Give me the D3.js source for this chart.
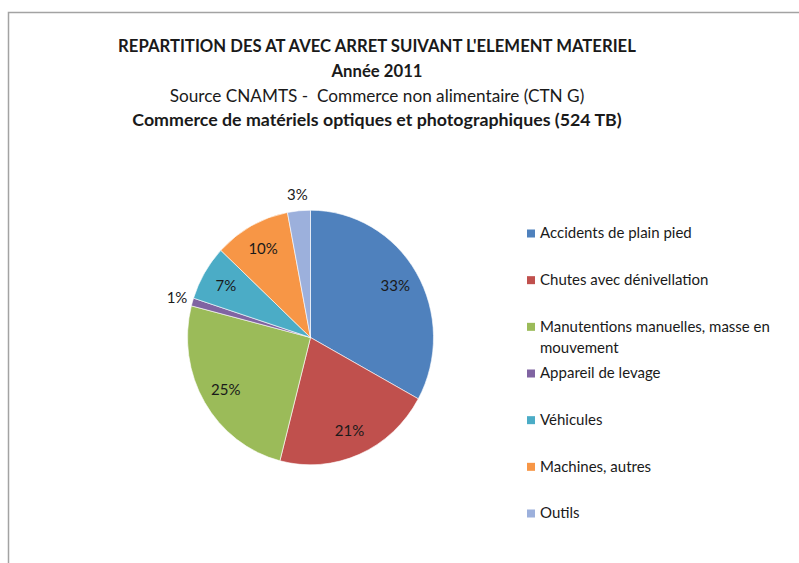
<!DOCTYPE html>
<html>
<head>
<meta charset="utf-8">
<script src="https://cdn.jsdelivr.net/npm/d3@7"></script>
<style>
  body { margin: 0; background: #fff; }
  text { font-family: Lato, "Open Sans", sans-serif; fill: #1a1a1a; }
</style>
</head>
<body>
<div id="chart"></div>
<script>
// pie of AT avec arret by element materiel, 2011
const categories = [
  'Accidents de plain pied',
  'Chutes avec dénivellation',
  'Manutentions manuelles, masse en mouvement',
  'Appareil de levage',
  'Véhicules',
  'Machines, autres',
  'Outils'
];
const values = [33, 21, 25, 1, 7, 10, 3];
const legendLines = [
  ['Accidents de plain pied'],
  ['Chutes avec dénivellation'],
  ['Manutentions manuelles, masse en', 'mouvement'],
  ['Appareil de levage'],
  ['Véhicules'],
  ['Machines, autres'],
  ['Outils']
];
const titles = [
  "REPARTITION DES AT AVEC ARRET SUIVANT L'ELEMENT MATERIEL",
  'Année 2011',
  'Source CNAMTS -\u00a0 Commerce non alimentaire (CTN G)',
  'Commerce de matériels optiques et photographiques (524 TB)'
];
const colors = ['#4f81bd', '#c0504d', '#9bbb59', '#8064a2', '#4bacc6', '#f79646', '#9cb0dc'];

const width = 799;
const height = 563;
const cx = 310.5, cy = 337.5, radius = 123;
const squash = 1.035; // pie in the picture is a touch taller than wide

const svg = d3.select('#chart').append('svg')
  .attr('width', width)
  .attr('height', height);

// frame (only top and left visible)
svg.append('path')
  .attr('d', `M8.5,${height} V12.5 H${width}`)
  .attr('fill', 'none')
  .attr('stroke', '#a3a3a3')
  .attr('stroke-width', 1.5);

// titles
const titleStyle = [
  {y: 51.5, size: 16.7, weight: 'bold'},
  {y: 76.5, size: 16.7, weight: 'bold'},
  {y: 101.5, size: 17.2, weight: 'normal'},
  {y: 125.5, size: 17.8, weight: 'bold'}
];
svg.selectAll('text.title')
  .data(titles)
  .enter().append('text')
    .attr('class', 'title')
    .attr('x', 377)
    .attr('y', (d, i) => titleStyle[i].y)
    .attr('text-anchor', 'middle')
    .style('font-size', (d, i) => titleStyle[i].size + 'px')
    .style('font-weight', (d, i) => titleStyle[i].weight)
    .text(d => d);

const color = d3.scaleOrdinal().domain(categories).range(colors);

const pie = d3.pie().sort(null).value(d => d.value);
const arcs = pie(categories.map((c, i) => ({name: c, value: values[i]})));

const arc = d3.arc().innerRadius(0).outerRadius(radius);
const inLabel = d3.arc().innerRadius(radius * 0.8).outerRadius(radius * 0.8);
const outLabel = d3.arc().innerRadius(radius + 16).outerRadius(radius + 16);

const g = svg.append('g').attr('transform', `translate(${cx},${cy}) scale(1,${squash})`);

g.selectAll('path')
  .data(arcs)
  .enter().append('path')
    .attr('d', arc)
    .attr('fill', d => color(d.data.name))
    .attr('stroke', '#ffffff')
    .attr('stroke-width', 0.6);

svg.append('g')
  .attr('transform', `translate(${cx},${cy})`)
  .selectAll('text')
  .data(arcs)
  .enter().append('text')
    .attr('transform', d => {
      const p = d.data.value < 5 ? outLabel.centroid(d) : inLabel.centroid(d);
      return `translate(${p[0]},${p[1] * squash})`;
    })
    .attr('text-anchor', 'middle')
    .attr('dy', '0.35em')
    .style('font-size', '15px')
    .text(d => d.data.value + '%');

// legend
const legend = svg.append('g').attr('transform', 'translate(527,0)');
const rowY = d3.scalePoint().domain(categories).range([233, 513]);

const item = legend.selectAll('g')
  .data(categories)
  .enter().append('g')
    .attr('transform', d => `translate(0,${rowY(d)})`);

item.append('rect')
  .attr('x', 0)
  .attr('y', -3.5)
  .attr('width', 8)
  .attr('height', 8)
  .attr('fill', d => color(d));

item.append('text')
  .style('font-size', '15px')
  .selectAll('tspan')
  .data((d, i) => legendLines[i])
  .enter().append('tspan')
    .attr('x', 13)
    .attr('y', (d, j) => j * 21)
    .attr('dy', '0.35em')
    .text(d => d);
</script>
</body>
</html>
